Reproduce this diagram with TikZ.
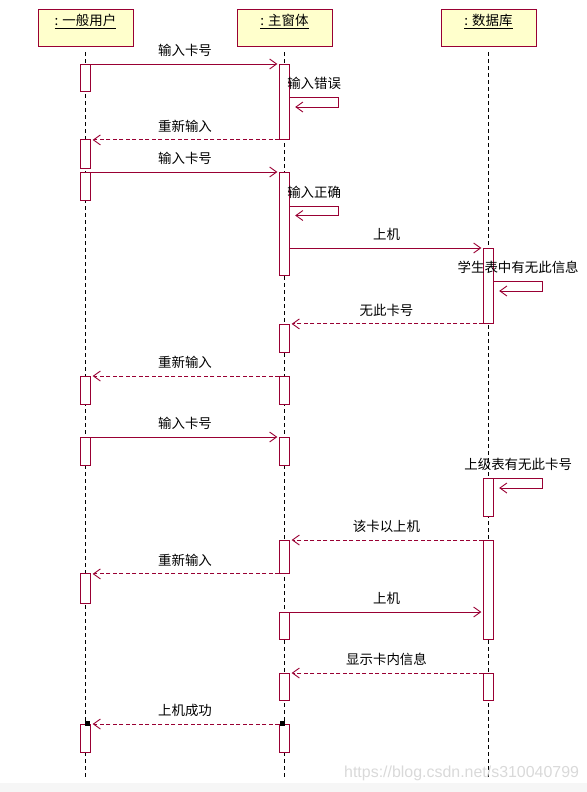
\documentclass[tikz,border=0pt]{standalone}
\usepackage{fontspec}
\setmainfont{Noto Sans CJK SC}
\newfontfamily\wmfont{Liberation Sans}
\usetikzlibrary{arrows.meta}
\usetikzlibrary{calc}

\definecolor{seqline}{HTML}{990033}
\definecolor{headfill}{HTML}{FFFFCC}

\tikzset{
  head/.style={draw=seqline,fill=headfill,line width=0.9bp,minimum width=95bp,
    inner sep=3bp,text height=14bp,text depth=17bp,font=\fontsize{13.5}{15}\selectfont},
  life/.style={black,line width=0.8bp,dash pattern=on 4bp off 3bp,shorten <=6bp},
  act/.style={draw=seqline,fill=white,line width=0.9bp,minimum width=9.4bp,
    inner sep=0pt,anchor=north},
  msg/.style={seqline,line width=0.9bp,-{Straight Barb[length=7bp,width=10bp]},
    shorten >=2bp},
  ret/.style={msg,dash pattern=on 4bp off 2.5bp},
  lbl/.style={text=black,font=\fontsize{13.5}{15}\selectfont,inner sep=1bp,yshift=14bp},
  sq/.style={fill=black,minimum size=5bp,inner sep=0pt},
}

\begin{document}
\begin{tikzpicture}[x=1bp,y=-1bp]
    \useasboundingbox (0,0) rectangle (587,792);
    \fill[gray!7] (0,783) rectangle (587,792);

    % objects
    \node[head] (user) at (85.5,27.5) {\underline{:\hspace{4bp}一般用户}};
    \node[head] (form) at (284.5,27.5) {\underline{:\hspace{4bp}主窗体}};
    \node[head] (db) at (488.5,27.5) {\underline{:\hspace{4bp}数据库}};

    \draw[life] (user.south) -- (user.south |- 0,780);
    \draw[life] (form.south) -- (form.south |- 0,780);
    \draw[life] (db.south) -- (db.south |- 0,780);

    % activations
    \node[act,minimum height=27bp] (u1) at (user |- 0,64) {};
    \node[act,minimum height=29bp] (u2) at (user |- 0,139) {};
    \node[act,minimum height=28bp] (u3) at (user |- 0,172) {};
    \node[act,minimum height=28bp] (u4) at (user |- 0,376) {};
    \node[act,minimum height=28bp] (u5) at (user |- 0,437) {};
    \node[act,minimum height=30bp] (u6) at (user |- 0,573) {};
    \node[act,minimum height=28bp] (u7) at (user |- 0,724) {};

    \node[act,minimum height=75bp] (m1) at (form |- 0,64) {};
    \node[act,minimum height=103bp] (m2) at (form |- 0,172) {};
    \node[act,minimum height=28bp] (m3) at (form |- 0,324) {};
    \node[act,minimum height=28bp] (m4) at (form |- 0,376) {};
    \node[act,minimum height=28bp] (m5) at (form |- 0,437) {};
    \node[act,minimum height=33bp] (m6) at (form |- 0,540) {};
    \node[act,minimum height=27bp] (m7) at (form |- 0,612) {};
    \node[act,minimum height=27bp] (m8) at (form |- 0,673) {};
    \node[act,minimum height=28bp] (m9) at (form |- 0,724) {};

    \node[act,minimum height=75bp] (d1) at (db |- 0,248) {};
    \node[act,minimum height=38bp] (d2) at (db |- 0,478) {};
    \node[act,minimum height=99bp] (d3) at (db |- 0,540) {};
    \node[act,minimum height=27bp] (d4) at (db |- 0,673) {};

    % messages
    \draw[msg] (u1.north east) -- node[lbl] (t1) {输入卡号} (m1.north west);
    \draw[msg] (m1.east |- 0,97) -- node[lbl] (t2) {输入错误} ++(49,0) -- ++(0,10) -- ++(-45.5,0);
    \draw[ret] (m1.south west) -- node[lbl] (t3) {重新输入} (m1.south west -| u2.east);
    \draw[msg] (u3.north east) -- node[lbl] (t4) {输入卡号} (m2.north west);
    \draw[msg] (m2.east |- 0,206) -- node[lbl] (t5) {输入正确} ++(49,0) -- ++(0,9.5) -- ++(-45.5,0);
    \draw[msg] (m2.east |- d1.north west) -- node[lbl] (t6) {上机} (d1.north west);
    \draw[msg] (d1.east |- 0,281) -- node[lbl] (t7) {学生表中有无此信息} ++(49,0) -- ++(0,10) -- ++(-45.5,0);
    \draw[ret] (d1.south west) -- node[lbl] (t8) {无此卡号} (d1.south west -| m3.east);
    \draw[ret] (m4.north west) -- node[lbl] (t9) {重新输入} (u4.north east);
    \draw[msg] (u5.north east) -- node[lbl] (t10) {输入卡号} (m5.north west);
    \draw[msg] (d2.north east) -- node[lbl] (t11) {上级表有无此卡号} ++(49,0) -- ++(0,10) -- ++(-45.5,0);
    \draw[ret] (d3.north west) -- node[lbl] (t12) {该卡以上机} (m6.north east);
    \draw[ret] (m6.south west) -- node[lbl] (t13) {重新输入} (m6.south west -| u6.east);
    \draw[msg] (m7.north east) -- node[lbl] (t14) {上机} (m7.north east -| d3.west);
    \draw[ret] (d4.north west) -- node[lbl] (t15) {显示卡内信息} (m8.north east);
    \draw[ret] (m9.north west) -- node[lbl] (t16) {上机成功} (u7.north east);

    \node[sq] (s1) at ($(u7.north)+(2.2,-0.5)$) {};
    \node[sq] (s2) at ($(m9.north)+(-2.2,-0.5)$) {};

    \node[anchor=west,text=gray!30,font=\wmfont\fontsize{16}{18}\selectfont,inner sep=0pt]
      (wm) at (344,773) {https://blog.csdn.net/s310040799};
\end{tikzpicture}
\end{document}
